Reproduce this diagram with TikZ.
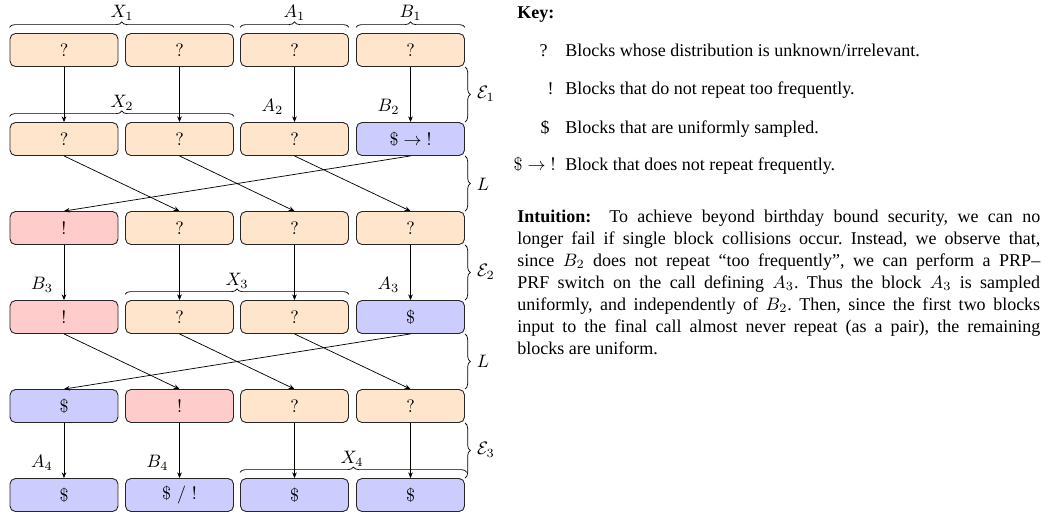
\documentclass[tikz,border=0pt]{standalone}
\usepackage{fontspec}
\newfontfamily\tnr{Liberation Serif}
\usetikzlibrary{arrows.meta,decorations.pathreplacing,calc}
\begin{document}
\frenchspacing
\begin{tikzpicture}[x=0.5556pt,y=0.5556pt,
  blk/.style={draw=black!85, rounded corners=3pt, minimum width=60pt, minimum height=18.3pt,
    inner sep=0pt, font=\fontsize{10}{12}\selectfont, line width=0.5pt},
  unk/.style={blk, fill=orange!20},
  nrp/.style={blk, fill=red!20},
  unif/.style={blk, fill=blue!20},
  arr/.style={-{Stealth[length=3.2pt,width=2.6pt]}, line width=0.4pt},
  brc/.style={decorate, decoration={brace, amplitude=3pt}, line width=0.4pt},
  lab/.style={inner sep=0pt, font=\fontsize{10}{12}\selectfont},
  keytxt/.style={inner sep=0pt, anchor=base west, font=\tnr\fontsize{10}{12}\selectfont},
  keysym/.style={inner sep=0pt, anchor=base east, font=\tnr\fontsize{10}{12}\selectfont},
]
\useasboundingbox (0,0) rectangle (1047,-518);

% row 1
\node[unk] (r1c1) at (64,-50) {?};
\node[unk] (r1c2) at (179.5,-50) {?};
\node[unk] (r1c3) at (294.5,-50) {?};
\node[unk] (r1c4) at (410.5,-50) {?};
% row 2
\node[unk] (r2c1) at (64,-139) {?};
\node[unk] (r2c2) at (179.5,-139) {?};
\node[unk] (r2c3) at (294.5,-139) {?};
\node[unif] (r2c4) at (410.5,-139) {$\$\to\mathord{!}$};
% row 3
\node[nrp] (r3c1) at (64,-228) {!};
\node[unk] (r3c2) at (179.5,-228) {?};
\node[unk] (r3c3) at (294.5,-228) {?};
\node[unk] (r3c4) at (410.5,-228) {?};
% row 4
\node[nrp] (r4c1) at (64,-317) {!};
\node[unk] (r4c2) at (179.5,-317) {?};
\node[unk] (r4c3) at (294.5,-317) {?};
\node[unif] (r4c4) at (410.5,-317) {\$};
% row 5
\node[unif] (r5c1) at (64,-406) {\$};
\node[nrp] (r5c2) at (179.5,-406) {!};
\node[unk] (r5c3) at (294.5,-406) {?};
\node[unk] (r5c4) at (410.5,-406) {?};
% row 6
\node[unif] (r6c1) at (64,-495) {\$};
\node[unif] (r6c2) at (179.5,-495) {\$ / !};
\node[unif] (r6c3) at (294.5,-495) {\$};
\node[unif] (r6c4) at (410.5,-495) {\$};

% vertical arrows
\foreach \c in {1,2,3,4}{
  \draw[arr] (r1c\c.south) -- (r2c\c.north);
  \draw[arr] (r3c\c.south) -- (r4c\c.north);
  \draw[arr] (r5c\c.south) -- (r6c\c.north);
}
% shuffles
\draw[arr] (r2c1.south) -- (r3c2.north);
\draw[arr] (r2c2.south) -- (r3c3.north);
\draw[arr] (r2c3.south) -- (r3c4.north);
\draw[arr] (r2c4.south) -- (r3c1.north);
\draw[arr] (r4c1.south) -- (r5c2.north);
\draw[arr] (r4c2.south) -- (r5c3.north);
\draw[arr] (r4c3.south) -- (r5c4.north);
\draw[arr] (r4c4.south) -- (r5c1.north);

% top braces
\draw[brc] ([yshift=3.2pt]r1c1.north west) -- ([yshift=3.2pt]r1c2.north east);
\draw[brc] ([yshift=3.2pt]r1c3.north west) -- ([yshift=3.2pt]r1c3.north east);
\draw[brc] ([yshift=3.2pt]r1c4.north west) -- ([yshift=3.2pt]r1c4.north east);
\node[lab] (lX1) at (122,-13) {$X_1$};
\node[lab] (lA1) at (294.5,-13) {$A_1$};
\node[lab] (lB1) at (410.5,-13) {$B_1$};

\draw[brc] ([yshift=3.2pt]r2c1.north west) -- ([yshift=3.2pt]r2c2.north east);
\node[lab] (lX2) at (122,-103) {$X_2$};
\node[lab] (lA2) at ($(r2c3.north)+(-22,15)$) {$A_2$};
\node[lab] (lB2) at ($(r2c4.north)+(-22,15)$) {$B_2$};

\draw[brc] ([yshift=3.2pt]r4c2.north west) -- ([yshift=3.2pt]r4c3.north east);
\node[lab] (lX3) at (237,-281) {$X_3$};
\node[lab] (lB3) at ($(r4c1.north)+(-22,15)$) {$B_3$};
\node[lab] (lA3) at ($(r4c4.north)+(-22,15)$) {$A_3$};

\draw[brc] ([yshift=3.2pt]r6c3.north west) -- ([yshift=3.2pt,xshift=1pt]r6c4.north east);
\node[lab] (lX4) at (352,-459) {$X_4$};
\node[lab] (lA4) at ($(r6c1.north)+(-22,15)$) {$A_4$};
\node[lab] (lB4) at ($(r6c2.north)+(-22,15)$) {$B_4$};

% right braces
\draw[brc] (r1c4.south east) -- (r2c4.north east);
\draw[brc] (r2c4.south east) -- (r3c4.north east);
\draw[brc] (r3c4.south east) -- (r4c4.north east);
\draw[brc] (r4c4.south east) -- (r5c4.north east);
\draw[brc] (r5c4.south east) -- (r6c4.north east);
\node[lab] (lE1) at (486,-94) {$\mathcal{E}_1$};
\node[lab] (lL1) at (483,-184) {$L$};
\node[lab] (lE2) at (486,-272) {$\mathcal{E}_2$};
\node[lab] (lL2) at (483,-361) {$L$};
\node[lab] (lE3) at (486,-450) {$\mathcal{E}_3$};

% key
\node[keytxt, font=\tnr\bfseries\fontsize{10}{12}\selectfont] (key) at (517,-18) {Key:};
\node[keysym] (k1s) at (548,-56) {?};
\node[keytxt] (k1t) at (565,-56) {Blocks whose distribution is unknown/irrelevant.};
\node[keysym] (k2s) at (554,-94) {!};
\node[keytxt] (k2t) at (565,-94) {Blocks that do not repeat too frequently.};
\node[keysym] (k3s) at (550,-133) {\$};
\node[keytxt] (k3t) at (565,-133) {Blocks that are uniformly sampled.};
\node[keysym, font=\fontsize{10}{12}\selectfont] (k4s) at (556,-170) {$\$\to\mathord{!}$};
\node[keytxt] (k4t) at (565,-170) {Block that does not repeat frequently.};

% intuition
\node[keytxt] (i1) at (517,-222) {\makebox[290.5pt][s]{\textbf{Intuition:}\hspace{1em}To achieve beyond birthday bound security, we can no}};
\node[keytxt] (i2) at (517,-244) {\makebox[290.5pt][s]{longer fail if single block collisions occur. Instead, we observe that,}};
\node[keytxt] (i3) at (517,-266) {\makebox[290.5pt][s]{since $B_2$ does not repeat “too frequently”, we can perform a PRP–}};
\node[keytxt] (i4) at (517,-288) {\makebox[290.5pt][s]{PRF switch on the call defining $A_3$. Thus the block $A_3$ is sampled}};
\node[keytxt] (i5) at (517,-310) {\makebox[290.5pt][s]{uniformly, and independently of $B_2$. Then, since the first two blocks}};
\node[keytxt] (i6) at (517,-332) {\makebox[290.5pt][s]{input to the final call almost never repeat (as a pair), the remaining}};
\node[keytxt] (i7) at (517,-354) {blocks are uniform.};
\end{tikzpicture}
\end{document}
